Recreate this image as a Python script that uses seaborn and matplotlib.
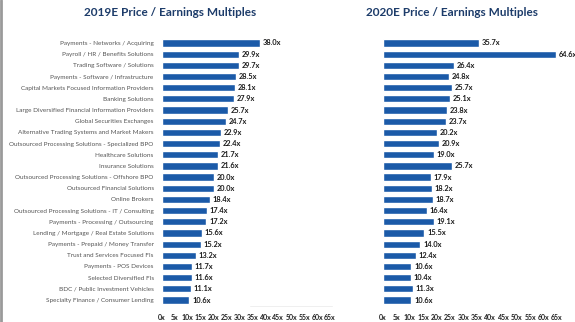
import matplotlib
matplotlib.use("Agg")
import matplotlib.pyplot as plt
import seaborn as sns
import pandas as pd
from matplotlib.lines import Line2D

categories = [
    "Payments - Networks / Acquiring",
    "Payroll / HR / Benefits Solutions",
    "Trading Software / Solutions",
    "Payments - Software / Infrastructure",
    "Capital Markets Focused Information Providers",
    "Banking Solutions",
    "Large Diversified Financial Information Providers",
    "Global Securities Exchanges",
    "Alternative Trading Systems and Market Makers",
    "Outsourced Processing Solutions - Specialized BPO",
    "Healthcare Solutions",
    "Insurance Solutions",
    "Outsourced Processing Solutions - Offshore BPO",
    "Outsourced Financial Solutions",
    "Online Brokers",
    "Outsourced Processing Solutions - IT / Consulting",
    "Payments - Processing / Outsourcing",
    "Lending / Mortgage / Real Estate Solutions",
    "Payments - Prepaid / Money Transfer",
    "Trust and Services Focused FIs",
    "Payments - POS Devices",
    "Selected Diversified FIs",
    "BDC / Public Investment Vehicles",
    "Specialty Finance / Consumer Lending",
]
pe_2019 = [38.0, 29.9, 29.7, 28.5, 28.1, 27.9, 25.7, 24.7, 22.9, 22.4, 21.7, 21.6,
           20.0, 20.0, 18.4, 17.4, 17.2, 15.6, 15.2, 13.2, 11.7, 11.6, 11.1, 10.6]
pe_2020 = [35.7, 64.6, 26.4, 24.8, 25.7, 25.1, 23.8, 23.7, 20.2, 20.9, 19.0, 25.7,
           17.9, 18.2, 18.7, 16.4, 19.1, 15.5, 14.0, 12.4, 10.6, 10.4, 11.3, 10.6]
x_ticks = list(range(0, 70, 5))
tick_labels = [f"{t}x" for t in x_ticks]

df = pd.DataFrame({"sector": categories, "y2019": pe_2019, "y2020": pe_2020})

sns.set_style("white")
plt.rcParams["font.family"] = ["Lato", "DejaVu Sans"]

BAR = "#1b5aa8"
NAVY = "#1d3c6a"
W, H = 575, 322
fig = plt.figure(figsize=(W / 100, H / 100), dpi=100)

bottom = 1 - 305.6 / H
height = 268.2 / H
ax1 = fig.add_axes([162 / W, bottom, 168 / W, height])
ax2 = fig.add_axes([383 / W, bottom, 174 / W, height])

for ax, col in ((ax1, "y2019"), (ax2, "y2020")):
    sns.barplot(data=df, x=col, y="sector", orient="h", color=BAR,
                saturation=1, width=0.65, ax=ax)
    ax.set_xlim(0, 65)
    ax.set_ylim(len(categories) - 0.5, -0.5)
    ax.set_xticks(x_ticks)
    ax.set_xticklabels(tick_labels, fontsize=5, fontweight="bold", color="#222222")
    ax.tick_params(axis="x", length=0, pad=6)
    ax.tick_params(axis="y", length=0, pad=6)
    ax.set_xlabel("")
    ax.set_ylabel("")
    for s in ax.spines.values():
        s.set_visible(False)
    for i, v in enumerate(df[col]):
        ax.text(v + 1.0, i, f"{v:.1f}x", va="center", ha="left", fontsize=5.3,
                fontweight="bold", color="#1a1a1a", clip_on=False)

ax1.set_yticks(range(len(categories)))
ax1.set_yticklabels(categories, fontsize=4.6, color="#555555")
ax2.set_yticks([])

fig.text(170 / W, 1 - 13 / H, "2019E Price / Earnings Multiples", ha="center",
         va="center", fontsize=8.5, fontweight="bold", color=NAVY)
fig.text(452 / W, 1 - 13 / H, "2020E Price / Earnings Multiples", ha="center",
         va="center", fontsize=8.5, fontweight="bold", color=NAVY)

# left frame edge and faint rule under the first panel
fig.add_artist(Line2D([1 / W, 1 / W], [0, 1], color="#9a9a9a", lw=2))
fig.add_artist(Line2D([250 / W, 332 / W], [1 - 306 / H, 1 - 306 / H],
                      color="#ececec", lw=0.6))

fig.savefig("out.png", dpi=100)
